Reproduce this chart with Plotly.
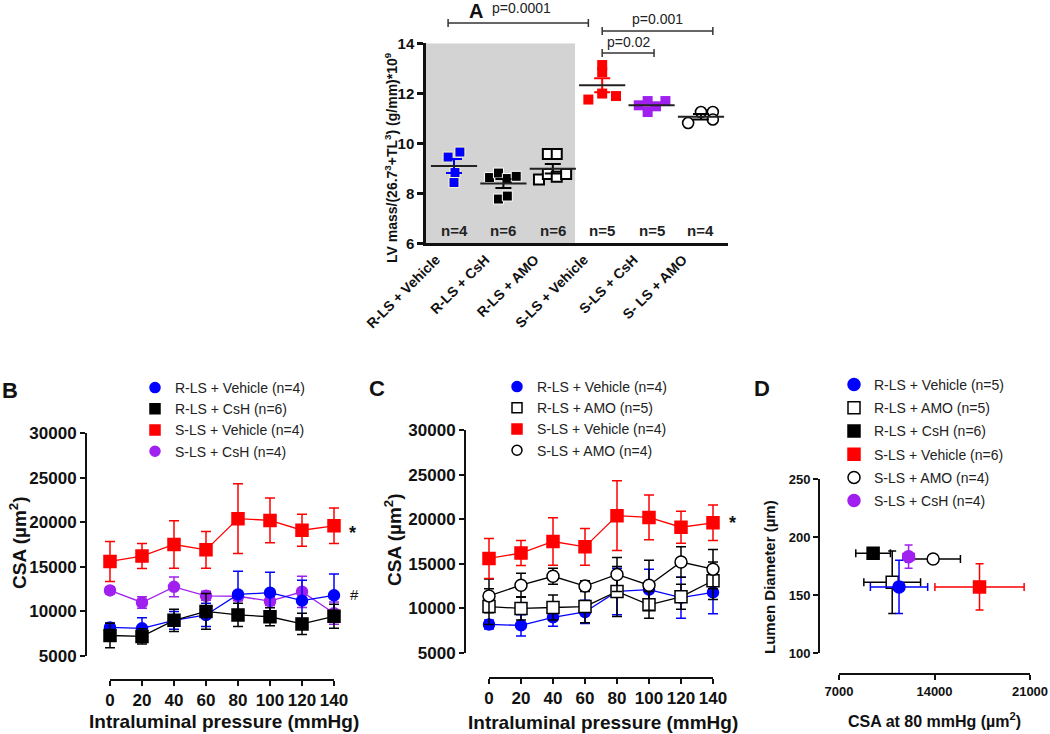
import numpy as np
import plotly.graph_objects as go

W, H = 1050, 734
def fx(px): return px / W
def fy(py): return 1 - py / H

FONT = "Liberation Sans, Arial, sans-serif"
INK = "#111111"
BLUE = "#0000ff"
RED = "#ff0000"
PURPLE = "#a020f0"

# ---------------- Panel A data ----------------
a_categories = ["R-LS + Vehicle", "R-LS + CsH", "R-LS + AMO", "S-LS + Vehicle", "S-LS + CsH", "S- LS + AMO"]
a_n_labels = ["n=4", "n=6", "n=6", "n=5", "n=5", "n=4"]
a_rls_vehicle = [9.45, 9.65, 8.83, 8.43]
a_rls_csh = [8.63, 8.81, 8.59, 8.68, 7.77, 7.89]
a_rls_amo = [8.55, 8.77, 8.66, 8.77, 9.57, 9.57]
a_sls_vehicle = [13.13, 12.85, 11.75, 11.99, 11.89]
a_sls_csh = [11.52, 11.69, 11.25, 11.48, 11.69]
a_sls_amo = [10.81, 11.25, 11.25, 10.95]
# horizontal scatter of the points inside each column (category units)
a_jit_rls_vehicle = [-0.12, 0.12, 0.02, 0.0]
a_jit_rls_csh = [-0.28, -0.1, 0.08, 0.26, -0.1, 0.08]
a_jit_rls_amo = [-0.28, -0.1, 0.08, 0.27, -0.1, 0.08]
a_jit_sls_vehicle = [0.0, 0.0, -0.28, 0.0, 0.28]
a_jit_sls_csh = [-0.26, -0.08, -0.08, 0.09, 0.28]
a_jit_sls_amo = [-0.26, 0.0, 0.24, 0.24]
a_pvalues = ["p=0.0001", "p=0.001", "p=0.02"]

# ---------------- Panels B / C data ----------------
pressure = [0, 20, 40, 60, 80, 100, 120, 140]
csa_ticks = [5000, 10000, 15000, 20000, 25000, 30000]
csa_rls_vehicle = [8200, 8100, 9000, 9600, 11900, 12100, 11200, 11800]
csa_rls_vehicle_sem = [500, 1200, 1000, 1300, 2600, 2300, 2300, 2400]
csa_rls_csh = [7300, 7200, 9000, 10000, 9600, 9400, 8600, 9450]
csa_rls_csh_sem = [1380, 850, 1250, 2000, 1300, 1000, 1200, 1350]
csa_sls_vehicle = [15600, 16200, 17500, 16900, 20400, 20200, 19100, 19600]
csa_sls_vehicle_sem = [2250, 1400, 2650, 2050, 3900, 2500, 1800, 2000]
csa_sls_csh = [12350, 11000, 12750, 11750, 11700, 11150, 12200, 9800]
csa_sls_csh_sem = [400, 650, 1100, 500, 500, 500, 1750, 1250]
csa_rls_amo = [10200, 10000, 10100, 10200, 11900, 10400, 11300, 13100]
csa_rls_amo_sem = [2000, 1300, 1400, 1800, 2800, 1500, 1400, 2100]
csa_sls_amo = [11400, 12600, 13600, 12500, 13800, 12600, 15200, 14400]
csa_sls_amo_sem = [1900, 1350, 900, 600, 1900, 2800, 1700, 2200]

# ---------------- Panel D data ----------------
d_labels = ["R-LS + Vehicle (n=5)", "R-LS + AMO (n=5)", "R-LS + CsH (n=6)",
            "S-LS + Vehicle (n=6)", "S-LS + AMO (n=4)", "S-LS + CsH (n=4)"]
d_csa80 = [11400, 10900, 9500, 17300, 13900, 12100]
d_csa80_sem = [2100, 2080, 1270, 3270, 2000, 420]
d_diameter = [157, 161, 186, 157, 181, 183]
d_diameter_sem = [23, 27, 4, 20, 2, 10]
d_xticks = [7000, 14000, 21000]
d_yticks = [100, 150, 200, 250]

fig = go.Figure()

# ================= Panel A =================
a_values = [a_rls_vehicle, a_rls_csh, a_rls_amo, a_sls_vehicle, a_sls_csh, a_sls_amo]
a_jitter = [a_jit_rls_vehicle, a_jit_rls_csh, a_jit_rls_amo, a_jit_sls_vehicle, a_jit_sls_csh, a_jit_sls_amo]
a_style = [
    dict(symbol="square", color=BLUE, line=dict(color="#fff8c0", width=1), size=10),
    dict(symbol="square", color="#000000", line=dict(color="#ffffff", width=1), size=10),
    dict(symbol="square", color="#ffffff", line=dict(color="#000000", width=2), size=10),
    dict(symbol="square", color=RED, line=dict(color=RED, width=0), size=10),
    dict(symbol="square", color=PURPLE, line=dict(color=PURPLE, width=0), size=10),
    dict(symbol="circle", color="#ffffff", line=dict(color="#000000", width=1.6), size=11),
]
a_sem_color = [BLUE, "#000000", "#000000", RED, PURPLE, "#000000"]
for i, (vals, jit) in enumerate(zip(a_values, a_jitter)):
    fig.add_trace(go.Scatter(
        x=[i + j for j in jit], y=vals, mode="markers", marker=a_style[i],
        xaxis="x", yaxis="y", showlegend=False, cliponaxis=False, hoverinfo="skip"))
for i, vals in enumerate(a_values):
    arr = np.array(vals)
    mean = arr.mean()
    sem = arr.std(ddof=1) / np.sqrt(len(arr))
    fig.add_trace(go.Scatter(
        x=[i], y=[mean], mode="markers",
        marker=dict(symbol="line-ew", size=33, line=dict(color="#222222", width=2)),
        error_y=dict(type="data", array=[sem], color=a_sem_color[i], thickness=2, width=8),
        xaxis="x", yaxis="y", showlegend=False, cliponaxis=False, hoverinfo="skip"))

# ================= Panels B and C =================
def series(x, y, e, xa, ya, color, symbol, fill, ecolor, size=11):
    return go.Scatter(
        x=x, y=y, mode="lines+markers",
        line=dict(color=color, width=1.3),
        marker=dict(symbol=symbol, size=size, color=fill, line=dict(color=color, width=1.5)),
        error_y=dict(type="data", array=e, color=ecolor, thickness=1.5, width=5),
        xaxis=xa, yaxis=ya, showlegend=False, cliponaxis=False, hoverinfo="skip")

def legend_item(name, legend, symbol, fill, color, size=10):
    return go.Scatter(x=[None], y=[None], mode="markers", name=name, legend=legend,
                      marker=dict(symbol=symbol, size=size, color=fill, line=dict(color=color, width=1.5)))

# B
fig.add_trace(series(pressure, csa_sls_csh, csa_sls_csh_sem, "x2", "y2", PURPLE, "circle", PURPLE, PURPLE))
fig.add_trace(series(pressure, csa_rls_vehicle, csa_rls_vehicle_sem, "x2", "y2", BLUE, "circle", BLUE, BLUE))
fig.add_trace(series(pressure, csa_rls_csh, csa_rls_csh_sem, "x2", "y2", "#000000", "square", "#000000", "#000000", 12))
fig.add_trace(series(pressure, csa_sls_vehicle, csa_sls_vehicle_sem, "x2", "y2", RED, "square", RED, RED, 12))
fig.add_trace(legend_item("R-LS + Vehicle (n=4)", "legend", "circle", BLUE, BLUE))
fig.add_trace(legend_item("R-LS + CsH (n=6)", "legend", "square", "#000000", "#000000"))
fig.add_trace(legend_item("S-LS + Vehicle (n=4)", "legend", "square", RED, RED))
fig.add_trace(legend_item("S-LS + CsH (n=4)", "legend", "circle", PURPLE, PURPLE))

# C
fig.add_trace(series(pressure, csa_rls_vehicle, csa_rls_vehicle_sem, "x3", "y3", BLUE, "circle", BLUE, BLUE))
fig.add_trace(series(pressure, csa_rls_amo, csa_rls_amo_sem, "x3", "y3", "#000000", "square", "#ffffff", "#000000", 12))
fig.add_trace(series(pressure, csa_sls_amo, csa_sls_amo_sem, "x3", "y3", "#000000", "circle", "#ffffff", "#000000", 12))
fig.add_trace(series(pressure, csa_sls_vehicle, csa_sls_vehicle_sem, "x3", "y3", RED, "square", RED, RED, 12))
fig.add_trace(legend_item("R-LS + Vehicle (n=4)", "legend2", "circle", BLUE, BLUE))
fig.add_trace(legend_item("R-LS + AMO (n=5)", "legend2", "square", "#ffffff", "#000000"))
fig.add_trace(legend_item("S-LS + Vehicle (n=4)", "legend2", "square", RED, RED))
fig.add_trace(legend_item("S-LS + AMO (n=4)", "legend2", "circle", "#ffffff", "#000000"))

# ================= Panel D =================
d_symbol = ["circle", "square", "square", "square", "circle", "circle"]
d_fill = [BLUE, "#ffffff", "#000000", RED, "#ffffff", PURPLE]
d_edge = [BLUE, "#000000", "#000000", RED, "#000000", PURPLE]
d_err = [BLUE, "#000000", "#000000", RED, "#000000", PURPLE]
d_order = [1, 2, 4, 5, 0, 3]
for i in d_order:
    fig.add_trace(go.Scatter(
        x=[d_csa80[i]], y=[d_diameter[i]], mode="markers", name=d_labels[i],
        legend="legend3", legendrank=i + 1, legendgroup=f"d{i}",
        marker=dict(symbol=d_symbol[i], size=12, color=d_fill[i], line=dict(color=d_edge[i], width=1.5)),
        error_x=dict(type="data", array=[d_csa80_sem[i]], color=d_err[i], thickness=1.5, width=4),
        error_y=dict(type="data", array=[d_diameter_sem[i]], color=d_err[i], thickness=1.5, width=4),
        xaxis="x4", yaxis="y4", cliponaxis=False, hoverinfo="skip"))

# ================= Axes =================
tick_bold = lambda s: dict(family=FONT, size=s, color=INK, weight="bold")
common = dict(showgrid=False, zeroline=False, ticks="outside", tickcolor=INK, linecolor=INK,
              automargin=False)

fig.update_layout(
    template="none",
    xaxis=dict(domain=[fx(426), fx(728)], range=[-0.567, 5.547], anchor="y",
               tickvals=list(range(6)), ticktext=a_categories, tickangle=-45, ticklabelshift=-18,
               showline=True, linewidth=2.5, linecolor=INK, ticks="", showgrid=False,
               zeroline=False, automargin=False, tickfont=tick_bold(14)),
    yaxis=dict(domain=[fy(243.3), fy(43.3)], range=[6, 14], anchor="x",
               tickvals=[6, 8, 10, 12, 14], showline=True, linewidth=2.5, ticklen=6,
               tickwidth=2.5, tickfont=tick_bold(15), **common),
    xaxis2=dict(domain=[fx(98), fx(346)], range=[-7.5, 147.5], anchor="free", position=fy(680),
                tickvals=pressure, ticktext=[str(p) for p in pressure], tickangle=0,
                showline=False, ticklen=5, tickwidth=2, tickfont=tick_bold(17), **common),
    yaxis2=dict(domain=[fy(656), fy(433)], range=[5000, 30000], anchor="free", position=fx(86),
                tickvals=csa_ticks, ticktext=[str(v) for v in csa_ticks], showline=True, linewidth=2,
                ticklen=5, tickwidth=2, tickfont=tick_bold(17), **common),
    xaxis3=dict(domain=[fx(477), fx(725)], range=[-7.5, 147.5], anchor="free", position=fy(678),
                tickvals=pressure, ticktext=[str(p) for p in pressure], tickangle=0,
                showline=False, ticklen=5, tickwidth=2, tickfont=tick_bold(17), **common),
    yaxis3=dict(domain=[fy(653), fy(430)], range=[5000, 30000], anchor="free", position=fx(465),
                tickvals=csa_ticks, ticktext=[str(v) for v in csa_ticks], showline=True, linewidth=2,
                ticklen=5, tickwidth=2, tickfont=tick_bold(17), **common),
    xaxis4=dict(domain=[fx(839), fx(1030)], range=[7000, 21000], anchor="free", position=fy(674),
                tickvals=d_xticks, ticktext=[str(v) for v in d_xticks], tickangle=0,
                showline=True, linewidth=2, ticklen=5, tickwidth=2,
                tickfont=tick_bold(13), **common),
    yaxis4=dict(domain=[fy(653), fy(479)], range=[100, 250], anchor="free", position=fx(819),
                tickvals=d_yticks, ticktext=[str(v) for v in d_yticks], showline=True, linewidth=2,
                ticklen=5, tickwidth=2, tickfont=tick_bold(13), **common),
)

# ================= Shapes =================
shapes = []
shapes.append(dict(type="rect", xref="x", yref="y", x0=-0.567, x1=2.45, y0=6, y1=14,
                   fillcolor="#d3d3d3", line=dict(width=0), layer="below"))
# offset x-axis lines of B and C (span 0..140 only)
shapes.append(dict(type="line", xref="x2", yref="paper", x0=0, x1=140, y0=fy(680), y1=fy(680),
                   line=dict(color=INK, width=2)))
shapes.append(dict(type="line", xref="x3", yref="paper", x0=0, x1=140, y0=fy(678), y1=fy(678),
                   line=dict(color=INK, width=2)))
# significance brackets in panel A
brackets = [(-0.12, 2.72, 23), (3.0, 5.24, 31), (3.0, 4.05, 53)]
for x0, x1, py in brackets:
    shapes.append(dict(type="line", xref="x", yref="paper", x0=x0, x1=x1, y0=fy(py), y1=fy(py),
                       line=dict(color="#333333", width=1.5)))
    for xe in (x0, x1):
        shapes.append(dict(type="line", xref="x", yref="paper", x0=xe, x1=xe, y0=fy(py - 4), y1=fy(py + 4),
                           line=dict(color="#333333", width=1.5)))
fig.update_layout(shapes=shapes)

# ================= Annotations =================
ann = []
def txt(text, px, py, size, bold=True, angle=0, xanchor="center", color=INK):
    ann.append(dict(text=text, x=fx(px), y=fy(py), xref="paper", yref="paper", showarrow=False,
                    xanchor=xanchor, yanchor="middle", textangle=angle,
                    font=dict(family=FONT, size=size, color=color, weight="bold" if bold else "normal")))

for i, lab in enumerate(a_n_labels):
    ann.append(dict(text=lab, x=i, y=6.53, xref="x", yref="y", showarrow=False,
                    font=dict(family=FONT, size=15, color="#222222", weight="bold")))
pval_pos = [(521, 8), (657, 19), (628, 42)]
for t, (px, py) in zip(a_pvalues, pval_pos):
    txt(t, px, py, 14, bold=False, color="#222222")

txt("LV mass/(26.7<sup>3</sup>+TL<sup>3</sup>) (g/mm)*10<sup>9</sup>", 391, 158, 14, angle=-90)
txt("CSA (µm<sup>2</sup>)", 18, 543, 19, angle=-90)
txt("Intraluminal pressure (mmHg)", 224, 721, 19)
txt("CSA (µm<sup>2</sup>)", 393, 540, 19, angle=-90)
txt("Intraluminal pressure (mmHg)", 603, 722, 19)
txt("Lumen Diameter (µm)", 769, 577, 15, angle=-90)
txt("CSA at 80 mmHg (µm<sup>2</sup>)", 935, 720, 16)
txt("*", 352, 533, 18)
txt("#", 354, 594, 15, bold=False)
txt("*", 732, 523, 18)
txt("A", 476, 11, 20)
txt("B", 10, 390, 22)
txt("C", 377, 388, 22)
txt("D", 762, 388, 22)
fig.update_layout(annotations=ann)

leg = dict(xanchor="left", yanchor="top", bgcolor="rgba(0,0,0,0)", borderwidth=0,
           font=dict(family=FONT, size=14, color="#222222"), itemclick=False, itemdoubleclick=False)
fig.update_layout(
    width=W, height=H, margin=dict(l=0, r=0, t=0, b=0, pad=0), autosize=False,
    paper_bgcolor="white", plot_bgcolor="white", showlegend=True,
    font=dict(family=FONT, color=INK),
    legend=dict(x=fx(135), y=fy(372), **leg),
    legend2=dict(x=fx(497), y=fy(371), **leg),
    legend3=dict(x=fx(834), y=fy(369), traceorder="grouped", tracegroupgap=2, **leg),
)

fig.write_html("out.html", config={"displayModeBar": False},
               post_script="document.body.style.margin='0';")
